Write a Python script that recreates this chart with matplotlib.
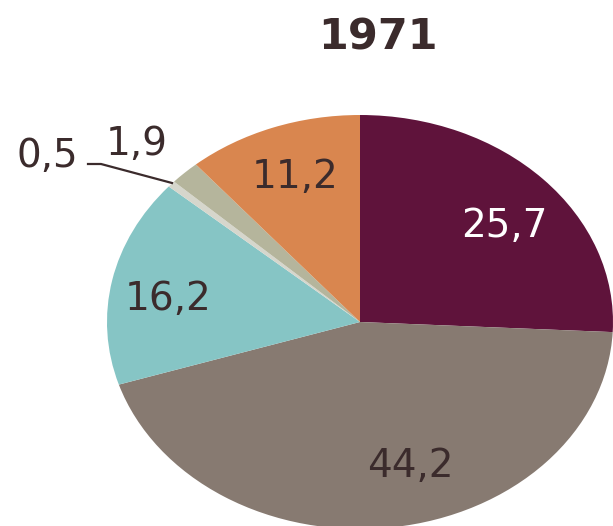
import matplotlib
matplotlib.use("Agg")
import matplotlib.pyplot as plt

title = "1971"
labels = ["25,7", "44,2", "16,2", "0,5", "1,9", "11,2"]
values = [25.7, 44.2, 16.2, 0.5, 1.9, 11.2]
colors = ["#5f133b", "#877a71", "#86c5c5", "#d6d6cc", "#b5b59c", "#d9864f"]
text_colors = ["white", "#3b2b2c", "#3b2b2c", "#3b2b2c", "#3b2b2c", "#3b2b2c"]

W, H = 613, 526
fig = plt.figure(figsize=(W / 100, H / 100), dpi=100)
ax = fig.add_axes([0, 0, 1, 1])

cx, cy, rx, ry = 360, 322, 253, 207


def px(x, y):
    return (x - cx) / rx, (cy - y) / ry


ax.pie(values, colors=colors, startangle=90, counterclock=False,
       wedgeprops=dict(linewidth=0))
ax.set_aspect("auto")
ax.set_xlim((0 - cx) / rx, (W - cx) / rx)
ax.set_ylim((cy - H) / ry, cy / ry)
ax.axis("off")

label_pos = [(504, 237), (410, 477), (168, 310), (47, 167), (137, 155), (295, 188)]
for lab, (x, y), c in zip(labels, label_pos, text_colors):
    X, Y = px(x, y)
    ax.text(X, Y, lab, ha="center", va="baseline", fontsize=28, color=c,
            family="DejaVu Sans")

# leader line for 0,5
lx = [88, 101, 172]
ly = [164, 164, 183]
pts = [px(a, b) for a, b in zip(lx, ly)]
ax.plot([p[0] for p in pts], [p[1] for p in pts], color="#3b2b2c", lw=1.6)

X, Y = px(378, 50)
ax.text(X, Y, title, ha="center", va="baseline", fontsize=31, fontweight="bold",
        color="#3b2b2c", family="DejaVu Sans")

fig.savefig("out.png", dpi=100)
